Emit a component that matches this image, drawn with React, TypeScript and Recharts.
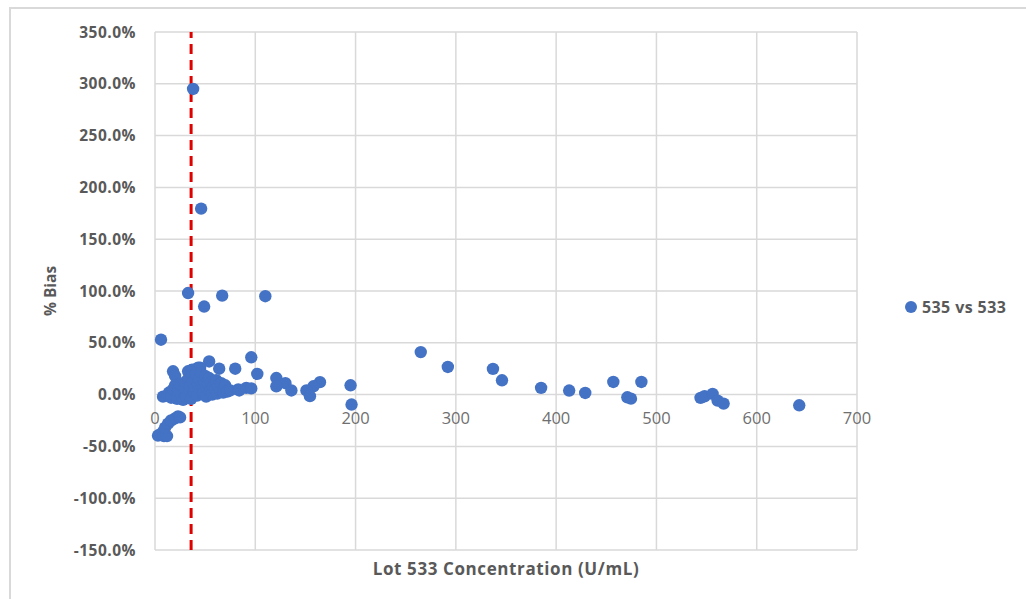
import React from 'react';
import { ScatterChart, Scatter, XAxis, YAxis, CartesianGrid, ReferenceLine } from 'recharts';

// [concentration, %bias]
const highOutliers: [number, number][] = [
  [38, 295], [46, 179.5], [33, 98], [67, 95.5], [49, 85], [110, 95], [6, 53],
];

const lowRangeCluster: [number, number][] = [
  [54, 32], [64, 25], [18, 22.5], [20, 18], [33, 22.5], [43, 26], [37, 24], [45, 26],
  [8, -2], [12, -1], [14, 2], [16, -3], [18, 5], [20, 9], [22, -4], [23, 4], [25, 10],
  [28, -5], [29, 7], [30, 12], [31, -2], [33, 15], [34, 4], [35, 8], [36, -4], [37, 18],
  [38, 12], [39, 2], [40, 6], [41, 20], [42, -1], [43, 10], [44, 15], [45, 4], [46, 21],
  [47, 8], [48, 1], [49, 13], [50, 18], [51, -2], [52, 6], [53, 10], [54, 16], [55, 3],
  [56, 12], [57, 0], [58, 8], [60, 5], [61, 14], [62, 1], [63, 9], [65, 4], [66, 11],
  [68, 2], [69, 7], [70, 9], [72, 3], [75, 4],
];

const negativeCluster: [number, number][] = [
  [3, -39.5], [6, -38], [8, -36], [9, -40], [12, -40], [10, -32], [13, -28], [16, -25],
  [20, -23], [23, -21], [25, -22],
];

const midHighRange: [number, number][] = [
  [83, 5], [91, 6.5], [96, 36], [102, 20], [80, 25], [84, 4], [96, 6], [121, 16],
  [130, 11], [121, 8], [136, 4], [164.5, 12], [158, 8], [151, 4], [154.5, -1.5],
  [195, 9], [196, -9.6], [265, 41], [292, 26.7], [337, 24.8], [346, 13.8], [385, 6.5],
  [413, 3.9], [429, 1.6], [457, 12.2], [485, 12.2], [471, -2.6], [474.6, -3.9],
  [544, -3.2], [548, -1.6], [556, 0.7], [561, -5.8], [567, -8.7], [642.4, -10.3],
];

const xTicks = [0, 100, 200, 300, 400, 500, 600, 700];
const yTicks = [-150, -100, -50, 0, 50, 100, 150, 200, 250, 300, 350];
const cutoffX = 36;
const seriesName = '535 vs 533';
const xTitle = 'Lot 533 Concentration (U/mL)';
const yTitle = '% Bias';

const points = [...highOutliers, ...lowRangeCluster, ...negativeCluster, ...midHighRange].map(
  ([x, y]) => ({ x, y })
);

const W = 1026;
const H = 599;
const PLOT_LEFT = 155;
const PLOT_TOP = 32;
const PLOT_RIGHT = 857;
const PLOT_BOTTOM = 550;
const PLOT_H = PLOT_BOTTOM - PLOT_TOP;
const Y_AXIS_W = 100;
const X_AXIS_H = 20;
const BLUE = '#4472C4';
const GRID = '#d9d9d9';
const TEXT = '#595959';
const TICK_TEXT = '#6f6f6f';
const FONT = '"Open Sans", "Noto Sans", sans-serif';

const zeroY = PLOT_TOP + (PLOT_H * 350) / 500;

const XTick = (props: any) => {
  const { x, payload } = props;
  return (
    <text
      x={x}
      y={zeroY + 23}
      textAnchor="middle"
      dominantBaseline="central"
      fill={TICK_TEXT}
      fontSize={16.5}
      fontFamily={FONT}
    >
      {payload.value}
    </text>
  );
};

const Dot = (props: any) => {
  const { cx, cy } = props;
  if (cx == null || cy == null) return null;
  return <circle cx={cx} cy={cy} r={6.2} fill={BLUE} />;
};

export default function App() {
  return (
    <div style={{ position: 'absolute', left: 0, top: 0, width: W, height: H, background: '#fff', overflow: 'hidden' }}>
      <div
        style={{
          position: 'absolute',
          left: 9,
          top: 7,
          width: 1020,
          height: 620,
          border: '2px solid #d9d9d9',
          boxSizing: 'border-box',
        }}
      />
      <div style={{ position: 'absolute', left: 0, top: 0 }}>
        <ScatterChart
          width={W}
          height={H}
          margin={{
            top: PLOT_TOP,
            left: PLOT_LEFT - Y_AXIS_W,
            right: W - PLOT_RIGHT,
            bottom: H - PLOT_BOTTOM - X_AXIS_H,
          }}
        >
          <CartesianGrid stroke={GRID} strokeWidth={1.5} />
          <XAxis
            type="number"
            dataKey="x"
            domain={[0, 700]}
            ticks={xTicks}
            interval={0}
            axisLine={false}
            tickLine={false}
            height={X_AXIS_H}
            tick={<XTick />}
          />
          <YAxis
            type="number"
            dataKey="y"
            domain={[-150, 350]}
            ticks={yTicks}
            interval={0}
            axisLine={false}
            tickLine={false}
            width={Y_AXIS_W}
            tickSize={6}
            tickMargin={13}
            tickFormatter={(v: number) => `${v.toFixed(1)}%`}
            tick={{ fill: TEXT, fontSize: 15.5, fontWeight: 700, fontFamily: FONT, letterSpacing: 0.5 }}
          />
          <ReferenceLine
            x={cutoffX}
            stroke="#e00000"
            strokeWidth={3}
            strokeDasharray="10 6"
            ifOverflow="extendDomain"
          />
          <Scatter
            name={seriesName}
            data={points}
            fill={BLUE}
            shape={<Dot />}
            isAnimationActive={false}
          />
        </ScatterChart>
      </div>
      <div
        style={{
          position: 'absolute',
          left: 50,
          top: 291,
          transform: 'translate(-50%, -50%) rotate(-90deg)',
          fontFamily: FONT,
          fontWeight: 700,
          fontSize: 15.5,
          color: TEXT,
          whiteSpace: 'nowrap',
        }}
      >
        {yTitle}
      </div>
      <div
        style={{
          position: 'absolute',
          left: 506,
          top: 568,
          transform: 'translate(-50%, -50%)',
          fontFamily: FONT,
          fontWeight: 700,
          fontSize: 17,
          letterSpacing: 0.6,
          color: TEXT,
          whiteSpace: 'nowrap',
        }}
      >
        {xTitle}
      </div>
      <div
        style={{
          position: 'absolute',
          left: 905,
          top: 307,
          transform: 'translateY(-50%)',
          display: 'flex',
          alignItems: 'center',
          fontFamily: FONT,
          fontWeight: 700,
          fontSize: 16,
          letterSpacing: 0.4,
          color: TEXT,
          whiteSpace: 'nowrap',
        }}
      >
        <svg width={12} height={12} style={{ marginRight: 5 }}>
          <circle cx={6} cy={6} r={6} fill={BLUE} />
        </svg>
        {seriesName}
      </div>
    </div>
  );
}
